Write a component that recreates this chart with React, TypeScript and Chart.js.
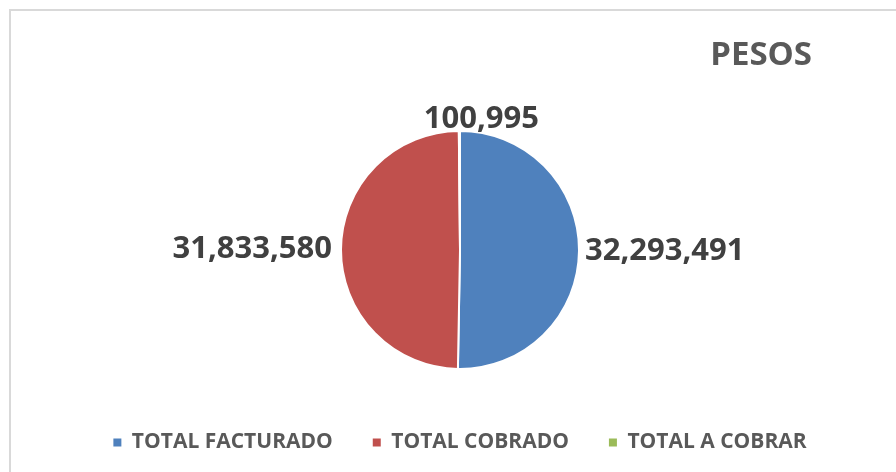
import React, { useEffect, useRef } from "react";
import { Chart, registerables } from "chart.js";

Chart.register(...registerables);

const categories = ["TOTAL FACTURADO", "TOTAL COBRADO", "TOTAL A COBRAR"];
const values = [32293491, 31833580, 100995];
const sliceColors = ["#4F81BD", "#C0504D", "#9BBB59"];
const chartTitle = "PESOS";

function fmt(n: number): string {
  return String(n).replace(/\B(?=(\d{3})+(?!\d))/g, ",");
}

export default function App() {
  const ref = useRef<HTMLCanvasElement>(null);

  useEffect(() => {
    document.body.style.margin = "0";
    const canvas = ref.current;
    if (!canvas) return;

    const labelPlugin = {
      id: "outLabels",
      afterDatasetsDraw(chart: any) {
        const ctx = chart.ctx;
        const meta = chart.getDatasetMeta(0);
        ctx.save();
        ctx.font = "bold 31px 'Open Sans'";
        ctx.fillStyle = "#404040";
        meta.data.forEach((arc: any, i: number) => {
          const p = arc.getProps(["x", "y", "startAngle", "endAngle", "outerRadius"], true);
          const mid = (p.startAngle + p.endAngle) / 2;
          const c = Math.cos(mid);
          const s = Math.sin(mid);
          const text = fmt(values[i]);
          if (c > 0.5) {
            ctx.textAlign = "left";
            ctx.textBaseline = "middle";
            const r = p.outerRadius + 6;
            ctx.fillText(text, p.x + r * c, p.y + r * s);
          } else if (c < -0.5) {
            ctx.textAlign = "right";
            ctx.textBaseline = "middle";
            const r = p.outerRadius + 9;
            ctx.fillText(text, p.x + r * c, p.y + r * s);
          } else if (s < 0) {
            ctx.textAlign = "center";
            ctx.textBaseline = "alphabetic";
            const r = p.outerRadius + 3;
            ctx.fillText(text, p.x + r * c + 22, p.y + r * s);
          } else {
            ctx.textAlign = "center";
            ctx.textBaseline = "top";
            const r = p.outerRadius + 4;
            ctx.fillText(text, p.x + r * c, p.y + r * s);
          }
        });
        ctx.restore();
      },
    };

    const titlePlugin = {
      id: "cornerTitle",
      afterDraw(chart: any) {
        const ctx = chart.ctx;
        ctx.save();
        ctx.font = "bold 33px 'Open Sans'";
        ctx.fillStyle = "#595959";
        ctx.textAlign = "right";
        ctx.textBaseline = "middle";
        ctx.fillText(chartTitle, chart.width - 84, 56);
        ctx.restore();
      },
    };

    const chart = new Chart(canvas, {
      type: "pie",
      data: {
        labels: categories,
        datasets: [
          {
            data: values,
            backgroundColor: sliceColors,
            borderColor: "#FFFFFF",
            borderWidth: 2,
            radius: 119,
          },
        ],
      },
      options: {
        responsive: false,
        animation: false,
        layout: { padding: { left: 24, right: 0, top: 108, bottom: 9 } },
        plugins: {
          tooltip: { enabled: false },
          title: { display: false },
          legend: {
            display: true,
            position: "bottom",
            labels: {
              color: "#595959",
              font: { family: "'Open Sans'", size: 21, weight: "bold" },
              boxWidth: 8,
              boxHeight: 8,
              padding: 40,
              generateLabels: (ch: any) =>
                (Chart as any).overrides.pie.plugins.legend.labels
                  .generateLabels(ch)
                  .map((l: any) => ({ ...l, lineWidth: 0, strokeStyle: l.fillStyle })),
            },
          },
        },
      },
      plugins: [labelPlugin, titlePlugin],
    });

    return () => chart.destroy();
  }, []);

  return (
    <div style={{ position: "relative", width: 896, height: 472, background: "#FFFFFF", overflow: "hidden" }}>
      <div
        style={{
          position: "absolute",
          left: 9,
          top: 9,
          width: 900,
          height: 480,
          borderTop: "2px solid #D9D9D9",
          borderLeft: "2px solid #D9D9D9",
        }}
      />
      <canvas ref={ref} width={896} height={472} style={{ position: "absolute", left: 0, top: 0 }} />
    </div>
  );
}
